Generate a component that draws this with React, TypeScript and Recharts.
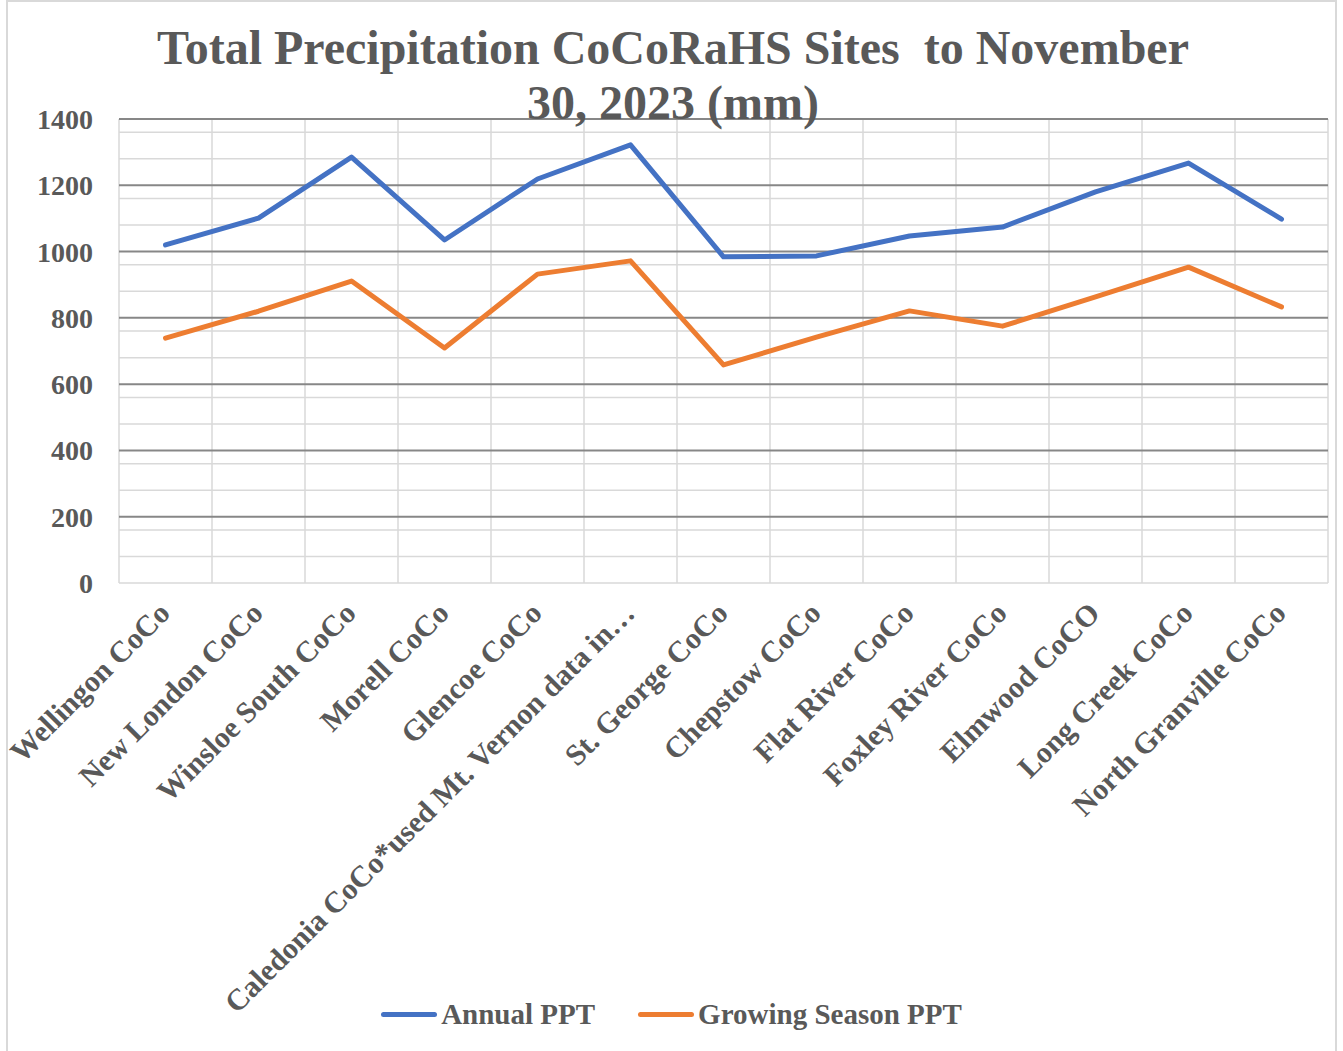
import React from 'react';
import { LineChart, Line, XAxis, YAxis, CartesianGrid, Legend } from 'recharts';

const sites = [
  'Wellingon CoCo',
  'New London CoCo',
  'Winsloe South CoCo',
  'Morell CoCo',
  'Glencoe CoCo',
  'Caledonia CoCo*used Mt. Vernon data in…',
  'St. George CoCo',
  'Chepstow CoCo',
  'Flat River CoCo',
  'Foxley River CoCo',
  'Elmwood CoCO',
  'Long Creek CoCo',
  'North Granville CoCo',
];
const annualPPT = [1020, 1101, 1285, 1035, 1219, 1322, 984, 987, 1047, 1074, 1180, 1267, 1098];
const growingPPT = [739, 820, 911, 709, 932, 972, 658, 742, 821, 775, 863, 953, 833];
const yTicks = [0, 200, 400, 600, 800, 1000, 1200, 1400];
const minorValues = [0, 40, 80, 120, 160, 240, 280, 320, 360, 440, 480, 520, 560, 640, 680, 720, 760, 840, 880, 920, 960, 1040, 1080, 1120, 1160, 1240, 1280, 1320, 1360];
const majorValues = [200, 400, 600, 800, 1000, 1200, 1400];

const data = sites.map((s, i) => ({ site: s, annual: annualPPT[i], growing: growingPPT[i] }));

const FONT = '"Liberation Serif", "Times New Roman", serif';
const TEXT = '#595959';

const XTick = (props: any) => {
  const { x, y, payload } = props;
  return (
    <g transform={`translate(${x + 6},${y + 24})`}>
      <text
        x={0}
        y={0}
        textAnchor="end"
        transform="rotate(-45)"
        fill={TEXT}
        fontFamily={FONT}
        fontWeight="bold"
        fontSize={30}
      >
        {payload.value}
      </text>
    </g>
  );
};

const LegendContent = () => {
  const items = [
    { label: 'Annual PPT', color: '#4472C4' },
    { label: 'Growing Season PPT', color: '#ED7D31' },
  ];
  return (
    <div style={{ display: 'flex', justifyContent: 'center', alignItems: 'center', fontFamily: FONT }}>
      {items.map((it, i) => (
        <div key={it.label} style={{ display: 'flex', alignItems: 'center', marginLeft: i === 0 ? 0 : 43 }}>
          <span style={{ display: 'inline-block', width: 56, height: 5, borderRadius: 3, background: it.color, marginRight: 4 }} />
          <span style={{ fontSize: 29, fontWeight: 'bold', color: TEXT }}>{it.label}</span>
        </div>
      ))}
    </div>
  );
};

const boundaryGen = ({ offset }: any) => {
  const n = sites.length;
  const arr: number[] = [];
  for (let i = 0; i <= n; i++) arr.push(offset.left + (offset.width * i) / n);
  return arr;
};

export default function App() {
  return (
    <div style={{ position: 'absolute', left: 0, top: 0, width: 1343, height: 1051, background: '#fff', overflow: 'hidden' }}>
      <div
        style={{
          position: 'absolute',
          left: 6,
          top: 0,
          width: 1331,
          height: 1060,
          borderTop: '2px solid #d9d9d9',
          borderLeft: '2px solid #d9d9d9',
          borderRight: '2px solid #d9d9d9',
          boxSizing: 'border-box',
        }}
      />
      <LineChart
        width={1343}
        height={1051}
        data={data}
        margin={{ top: 119, right: 15, left: 19, bottom: 68 }}
        style={{ position: 'absolute', left: 0, top: 0 }}
      >
        <CartesianGrid
          stroke="#d9d9d9"
          strokeWidth={1.5}
          horizontalValues={minorValues}
          verticalCoordinatesGenerator={boundaryGen}
        />
        <CartesianGrid stroke="#878787" strokeWidth={2} horizontalValues={majorValues} vertical={false} />
        <XAxis
          dataKey="site"
          scale="band"
          interval={0}
          axisLine={false}
          tickLine={false}
          height={400}
          tick={<XTick />}
        />
        <YAxis
          domain={[0, 1400]}
          ticks={yTicks}
          axisLine={false}
          tickLine={false}
          tickSize={0}
          tickMargin={26}
          width={100}
          tick={{ fill: TEXT, fontFamily: FONT, fontWeight: 'bold', fontSize: 28 }}
        />
        <Legend
          layout="horizontal"
          verticalAlign="middle"
          align="center"
          content={<LegendContent />}
          wrapperStyle={{ top: 998, left: 0, width: 1343 }}
        />
        <Line
          dataKey="annual"
          name="Annual PPT"
          stroke="#4472C4"
          strokeWidth={5}
          strokeLinecap="round"
          strokeLinejoin="round"
          dot={false}
          activeDot={false}
          isAnimationActive={false}
        />
        <Line
          dataKey="growing"
          name="Growing Season PPT"
          stroke="#ED7D31"
          strokeWidth={5}
          strokeLinecap="round"
          strokeLinejoin="round"
          dot={false}
          activeDot={false}
          isAnimationActive={false}
        />
      </LineChart>
      <div
        style={{
          position: 'absolute',
          left: 0,
          top: 20,
          width: 1346,
          textAlign: 'center',
          fontFamily: FONT,
          fontWeight: 'bold',
          fontSize: 48,
          lineHeight: '55px',
          color: TEXT,
          whiteSpace: 'pre',
          pointerEvents: 'none',
        }}
      >
        {'Total Precipitation CoCoRaHS Sites  to November'}
        <br />
        {'30, 2023 (mm)'}
      </div>
    </div>
  );
}
